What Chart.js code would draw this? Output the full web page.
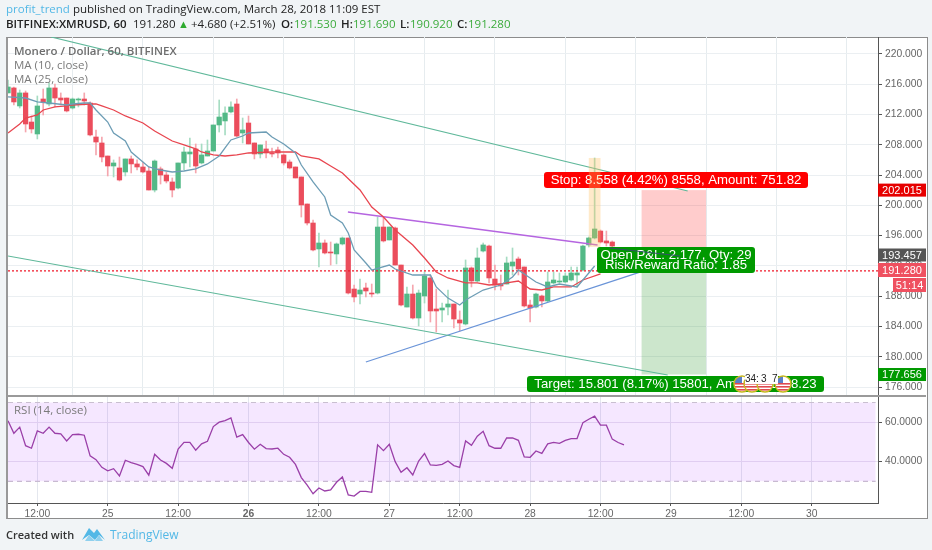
<!DOCTYPE html>
<html><head><meta charset="utf-8">
<style>
html,body{margin:0;padding:0;width:932px;height:550px;overflow:hidden;background:#f1f4f6;font-family:"Open Sans",sans-serif}
.t{position:absolute;white-space:nowrap;font-size:11.5px;line-height:14px;color:#222}
#frame{position:absolute;left:6px;top:37px;width:919px;height:480px;background:#fff;border:1px solid #8c8c8c;border-left:2px solid #999;box-sizing:content-box}
canvas{position:absolute;left:0}
.lg{position:absolute;left:14px;white-space:nowrap;font-size:11.5px;line-height:14px;color:#7a7a7a;z-index:5}
</style></head><body>
<div id="frame"></div>
<canvas id="main" width="932" height="397" style="top:0"></canvas>
<canvas id="rsi" width="932" height="153" style="top:397px"></canvas>
<div style="position:absolute;left:7px;top:395px;width:919px;height:2px;background:#9a9a9a"></div>
<div class="t" style="left:6px;top:2px;font-size:11.5px"><span style="color:#53b8e6">profit_trend</span> published on TradingView.com, March 28, 2018 11:09 EST</div>
<div class="t" style="left:6px;top:17px;font-weight:600">BITFINEX:XMRUSD, 60</div>
<div class="t" style="left:133px;top:17px">191.280</div>
<div class="t" style="left:178px;top:17px;color:#2eaa2e;font-size:11px">▲</div>
<div class="t" style="left:191px;top:17px">+4.680 (+2.51%)</div>
<div class="t" style="left:281px;top:17px;font-weight:600">O:</div><div class="t" style="left:294px;top:17px;color:#3cab3c">191.530</div>
<div class="t" style="left:341px;top:17px;font-weight:600">H:</div><div class="t" style="left:353px;top:17px;color:#3cab3c">191.690</div>
<div class="t" style="left:400px;top:17px;font-weight:600">L:</div><div class="t" style="left:410px;top:17px;color:#3cab3c">190.920</div>
<div class="t" style="left:457px;top:17px;font-weight:600">C:</div><div class="t" style="left:468px;top:17px;color:#3cab3c">191.280</div>
<div class="lg" style="top:44px;font-weight:600;color:#6e6e6e">Monero / Dollar, 60, BITFINEX</div>
<div class="lg" style="top:58px">MA (10, close)</div>
<div class="lg" style="top:72px">MA (25, close)</div>
<div class="lg" style="top:403px">RSI (14, close)</div>
<div class="t" style="left:6px;top:528px;font-size:11px;font-weight:600;color:#333">Created with</div>
<svg style="position:absolute;left:82px;top:527px" width="23" height="15" viewBox="0 0 23 15"><path d="M0 13 L7 1 L12 6 L15 2 L23 13 L17 8 L13 13 L7 8 Z" fill="#53b8e6"/><path d="M3 14 L7 8 L13 14 Z M13 14 L17 8 L21 14 Z" fill="#8fd0ee"/></svg>
<div class="t" style="left:110px;top:528px;font-size:12px;color:#53b8e6">TradingView</div>
<script src="https://cdn.jsdelivr.net/npm/chart.js@4"></script>
<script>
// hourly candles; hour 0 = Mar 25 00:00, first candle is hour -17
const firstHour = -17;
const opens = [214.85,215.51,213.13,214.85,211.01,209.43,214.05,213.39,215.51,214.18,214.18,212.86,213.92,214.05,213.52,209.03,208.24,206.52,205.2,204.94,204.41,206.13,205.47,205.07,204.54,202.03,204.81,204.01,203.09,202.29,205.6,206.79,207.45,205.6,206.52,207.18,210.62,211.15,212.34,213.39,209.56,210.88,208.24,206.79,207.45,206.92,207.32,206.66,205.73,205.07,203.75,200.18,197.67,194.24,195.03,193.84,193.58,194.9,195.69,188.95,188.29,189.09,188.42,188.42,197.14,195.43,197.01,192.12,186.57,188.29,185.12,188.03,190.41,186.31,186.18,186.57,186.97,184.86,184.33,191.73,190.01,193.97,194.63,190.27,189.61,189.61,191.99,192.92,191.86,186.84,186.57,188.03,187.37,189.75,189.88,189.88,190.14,190.8,191.46,194.77,195.69,196.61,195.3,195.16];
const highs = [216.56,215.64,215.24,215.11,211.81,214.45,215.37,216.17,216.03,214.85,214.18,214.18,214.18,214.85,213.66,209.96,209.03,206.52,206.0,206.39,206.13,206.52,206.0,205.73,205.07,206.0,205.07,204.41,203.62,205.6,207.71,208.9,208.11,208.11,208.64,210.62,213.92,213.0,213.66,214.05,211.54,211.81,208.24,207.98,208.5,207.58,207.71,206.79,206.0,205.07,203.75,200.18,198.07,196.35,195.43,195.16,195.03,195.82,195.69,189.48,190.27,189.75,189.61,198.46,198.46,197.14,197.14,192.12,189.22,189.48,188.82,191.2,190.8,188.95,187.1,188.82,186.97,186.05,192.79,191.86,194.37,195.03,194.77,192.12,190.8,193.18,194.37,193.18,191.86,187.5,188.42,188.16,191.2,191.2,191.07,191.07,191.86,191.86,194.77,195.82,206.26,196.75,196.61,195.3];
const lows = [214.85,213.26,212.86,209.69,209.56,208.77,211.94,213.13,213.0,213.26,212.34,212.73,213.0,213.26,209.16,206.66,205.73,203.88,203.75,203.22,203.88,204.28,204.67,204.28,202.03,201.77,202.82,202.96,201.11,202.16,204.67,205.07,204.28,205.47,206.52,207.18,209.69,209.3,212.2,209.03,208.24,208.11,206.13,206.26,206.26,206.39,206.26,205.33,204.81,203.62,198.46,197.41,193.97,191.86,193.58,192.12,192.26,194.77,188.29,187.24,186.97,187.9,187.9,188.29,195.16,195.43,192.12,186.71,186.57,184.99,184.06,187.1,184.59,183.27,184.59,185.52,183.8,183.4,184.2,189.22,189.88,193.84,189.75,188.82,188.82,189.61,190.8,190.8,186.57,184.59,186.44,186.57,187.24,189.61,189.75,189.75,190.01,189.22,191.33,194.5,195.56,195.03,194.63,194.5];
const closes = [215.64,213.66,214.85,210.75,210.09,213.13,213.66,215.51,214.18,213.92,212.47,214.05,214.05,213.79,209.3,208.37,206.39,205.2,205.6,203.35,206.13,205.47,205.07,204.41,202.03,205.86,204.01,203.22,202.03,205.6,207.05,207.05,205.2,206.66,207.18,210.62,211.67,212.2,213.0,209.16,209.96,208.11,206.79,207.98,206.92,206.79,206.92,205.6,204.94,203.62,200.05,197.67,194.11,195.03,193.71,193.71,194.9,195.69,188.42,187.9,188.82,188.69,188.29,197.14,195.3,197.14,192.12,186.84,188.29,185.12,188.42,190.67,186.05,186.05,186.44,186.97,184.99,184.46,191.73,190.01,193.05,194.77,190.41,189.48,189.35,192.39,192.52,191.59,186.71,186.44,188.29,187.37,189.88,190.14,190.01,190.67,191.07,191.07,194.63,195.69,196.88,195.16,195.03,194.63];

const ma25Hours = [-17,-15,-14,-12,-11,-9,-7,-6,-3,-2,-1,1,3,6,8,11,13,15,16,18,20,22,24,28,31,32,33,36,38,40,43,45,47,49,52,54,56,58,61,63,65,67,68,70,71,72,74,76,79,81,84];
const ma25 = [209.56,210.75,211.54,211.94,212.6,213.0,213.13,213.26,213.39,213.39,213.13,212.6,211.81,210.88,209.83,208.5,207.98,207.45,207.05,206.66,206.52,206.66,206.92,207.05,207.05,207.05,206.52,206.13,205.2,204.28,202.03,199.78,198.46,196.75,194.77,193.05,191.2,190.41,189.75,189.75,189.48,189.61,189.75,190.01,189.48,188.95,188.82,189.22,189.22,190.14,190.94];
const ma10Hours = [-17,-14,-12,-10,-7,-6,-4,-3,-2,0,1,3,4,6,7,9,11,13,15,17,19,20,21,23,24,27,28,30,32,33,35,37,38,40,41,42,44,45,48,49,52,55,56,58,60,61,64,67,69,70,71,73,75,77,80,81,83];
const ma10 = [214.32,214.18,213.66,213.52,213.26,213.39,213.52,213.52,212.6,211.01,209.56,208.5,207.05,205.73,205.07,204.67,204.41,204.54,204.81,205.47,206.52,207.58,208.64,209.16,209.56,209.69,209.03,208.11,206.92,205.33,203.09,201.11,198.73,197.67,196.35,194.11,192.39,191.46,192.12,191.59,190.8,190.8,189.22,187.75,186.84,187.5,188.82,189.48,190.54,191.46,190.94,189.88,189.22,189.61,189.22,190.14,191.99];
const rsi14 = [60.7,54.4,57.5,48.1,46.8,55.6,54.4,57.5,54.4,54.1,50.5,53.7,53.9,53.4,42.9,41.0,37.1,35.3,36.4,32.7,40.7,39.5,38.6,37.5,33.1,43.7,40.8,39.1,36.6,46.4,49.8,49.8,45.8,49.0,50.3,57.8,60.0,60.8,62.2,52.4,53.7,49.7,46.3,48.8,46.6,46.4,46.8,43.7,42.2,38.6,31.9,28.1,23.7,26.6,25.1,25.6,29.5,32.2,23.1,22.5,24.9,24.9,24.4,48.5,45.6,48.8,40,34.6,36.9,33.2,40.3,44.1,38.3,38.1,38.6,40.3,38.0,37.1,50.5,48.3,52.9,55.4,48.1,46.8,46.8,52,52,50.8,42.4,42.2,45.4,44.2,49,49.8,49.3,50.8,51.7,51.7,59.8,61.5,63.1,58.5,58.5,51.4,49.7,48.5];

const channelTop = [[-9.66,222.24],[98.86,201.9]];
const channelBottom = [[-17,193.31],[95.45,177.59]];
const purpleLine = [[40.94,199.12],[83.5,194.77]];
const blueLine = [[44,179.31],[90.85,191.2]];
const darkLine = [[85.5,194.37],[97.6,193.31]];
const priceLine = 191.35;
const stopPrice = 202.015, entryPrice = 193.457, targetPrice = 177.656;
const positionHours = [91,102];
const bandHours = [82,84], bandPrices = [206.26,194.5];
const priceTicks = [176,180,184,188,192,196,200,204,208,212,216,220];
const rsiTicks = [40,60];
const rsiBand = [70,30];
const timeTicks = [-12,0,12,24,36,48,60,72,84,96,108,120];
const dayLabels = {0:'25',24:'26',48:'27',72:'28',96:'29',120:'30'};
const xMin = -17, xMax = 131.3;
const yMin = 174.95, yMax = 222.24;
const rsiMin = 19, rsiMax = 72.8;
const rsiBandEnd = 130.9;

const hours = opens.map((_,i)=>i+firstHour);
const rsiHours = rsi14.map((_,i)=>i+firstHour);
const UP='#53b987', DOWN='#eb4d5c', UPW='#a6dcc2', DOWNW='#f5a6ae';
const pts = a => a.map(p=>({x:p[0],y:p[1]}));
const line = (data,color,width,extra)=>Object.assign({type:'line',data,borderColor:color,borderWidth:width,pointRadius:0,fill:false,tension:0,order:1},extra||{});
const noPad = s => { s.paddingTop=0; s.paddingBottom=0; s.paddingLeft=0; s.paddingRight=0; };

function rrect(c,x,y,w,h,r,fill){c.beginPath();c.roundRect(x,y,w,h,r);c.fillStyle=fill;c.fill();}
function label(c,x,y,w,h,fill,lines,font){rrect(c,x,y,w,h,3,fill);c.fillStyle='#fff';c.font=font||'13.2px "Liberation Sans"';c.textAlign='center';c.textBaseline='middle';
  lines.forEach((t,i)=>c.fillText(t,x+w/2,y+h/2+(i-(lines.length-1)/2)*10+0.5));}
function flag(c,x,y){c.save();c.beginPath();c.arc(x,y,8,0,7);c.fillStyle='#fff';c.fill();c.clip();
  c.fillStyle='#fff';c.fillRect(x-8,y-8,16,16);
  c.fillStyle='#e04a50';for(let i=0;i<3;i++)c.fillRect(x-8,y+i*3-1,16,1.6);
  c.fillStyle='#5a7fc8';c.fillRect(x-8,y-8,8,7);c.restore();
  c.beginPath();c.arc(x,y,8,0,7);c.strokeStyle='#c8b820';c.lineWidth=1.4;c.stroke();}
function axisTag(c,y,h,fill,text,x){c.fillStyle=fill;c.fillRect(x||878,y-h/2,926-(x||878),h);c.fillStyle='#fff';c.font='11px "Liberation Sans"';c.textAlign='center';c.textBaseline='middle';c.fillText(text,((x||878)+926)/2,y+0.5);}

const overlays = {id:'overlays',
 beforeDatasetsDraw(ch){const c=ch.ctx,X=ch.scales.x,Y=ch.scales.y;
   const x0=X.getPixelForValue(positionHours[0]),x1=X.getPixelForValue(positionHours[1]);
   const ys=Y.getPixelForValue(stopPrice),ye=Y.getPixelForValue(entryPrice),yt=Y.getPixelForValue(targetPrice);
   c.fillStyle='rgba(255,0,0,0.2)';c.fillRect(x0,ys,x1-x0,ye-ys);
   c.fillStyle='rgba(0,128,0,0.2)';c.fillRect(x0,ye,x1-x0,yt-ye);},
 afterDatasetsDraw(ch){const c=ch.ctx,X=ch.scales.x,Y=ch.scales.y;
   label(c,544,172,264,16,'#f00',['Stop: 8.558 (4.42%) 8558, Amount: 751.82']);
   label(c,597,247,158,26,'#090',['Open P&L: 2.177, Qty: 29','Risk/Reward Ratio: 1.85']);
   label(c,527,376,297,16,'#090',['Target: 15.801 (8.17%) 15801, Amount: 1388.23']);
   c.beginPath();c.moveTo(X.getPixelForValue(darkLine[0][0]),Y.getPixelForValue(darkLine[0][1]));
   c.lineTo(X.getPixelForValue(darkLine[1][0]),Y.getPixelForValue(darkLine[1][1]));c.strokeStyle='#35506a';c.lineWidth=1;c.stroke();
   const bx=X.getPixelForValue(bandHours[0]),bw=X.getPixelForValue(bandHours[1])-bx;
   const by=Y.getPixelForValue(bandPrices[0]),bh=Y.getPixelForValue(bandPrices[1])-by;
   c.fillStyle='rgba(255,190,90,0.32)';c.fillRect(bx,by,bw,bh);
   [742,752,765,783].forEach(x=>flag(c,x,384));
   c.fillStyle='#fff';c.fillRect(745,375,33,9);
   c.fillStyle='#222';c.font='10px "Liberation Sans"';c.textAlign='left';c.textBaseline='middle';
   c.fillText('34:',745,379);c.fillText('3',761,379);c.fillText('7',772,379);
 },
 afterDraw(ch){const c=ch.ctx,Y=ch.scales.y;
   axisTag(c,Y.getPixelForValue(stopPrice),13,'#e60000','202.015');
   axisTag(c,255,13,'#555','193.457');
   axisTag(c,270,14,'#ef5060','191.280');
   axisTag(c,285,14,'#ef5060','51:14',893);
   axisTag(c,Y.getPixelForValue(targetPrice),13,'#090','177.656');
 }};

new Chart(document.getElementById('main'),{
 data:{datasets:[
  line(pts(channelTop),'#5fb89a',1.2),
  line(pts(channelBottom),'#5fb89a',1.2),
  line(pts(purpleLine),'#b565e0',1.4),
  line(pts(blueLine),'#6a94d8',1.3),
  line(pts([[xMin,priceLine],[xMax,priceLine]]),'#f01828',1.2,{borderDash:[2,2]}),
  line(ma10Hours.map((h,i)=>({x:h,y:ma10[i]})),'#6d9db5',1.3,{order:0}),
  line(ma25Hours.map((h,i)=>({x:h,y:ma25[i]})),'#e8454f',1.3,{order:0}),
  {type:'bar',data:hours.map((h,i)=>({x:h,y:[opens[i],closes[i]]})),backgroundColor:hours.map((h,i)=>closes[i]>=opens[i]?UP:DOWN),barThickness:4.6,order:2,grouped:false},
  {type:'bar',data:hours.map((h,i)=>({x:h,y:[lows[i],highs[i]]})),backgroundColor:hours.map((h,i)=>closes[i]>=opens[i]?UPW:DOWNW),barThickness:1,order:3,grouped:false}
 ]},
 options:{responsive:false,animation:false,devicePixelRatio:1,
  layout:{padding:{left:8,right:6,top:37,bottom:2}},
  plugins:{legend:{display:false},tooltip:{enabled:false}},
  scales:{
   x:{type:'linear',min:xMin,max:xMax,offset:false,afterBuildTicks:s=>{s.ticks=timeTicks.map(value=>({value}))},afterFit:s=>{s.height=0;noPad(s)},
      ticks:{display:false},grid:{color:'#e6ecef',drawTicks:false},border:{display:false}},
   y:{position:'right',min:yMin,max:yMax,afterBuildTicks:s=>{s.ticks=priceTicks.map(value=>({value}))},afterFit:s=>{s.width=48;noPad(s)},
      ticks:{color:'#666',font:{family:'"Liberation Sans"',size:10.3},padding:3,callback:v=>v.toFixed(3)},
      grid:{color:'#ebeff2',tickColor:'#555',tickLength:4},border:{color:'#555'}}
  }},
 plugins:[overlays]
});

new Chart(document.getElementById('rsi'),{
 data:{datasets:[
  line([{x:xMin,y:rsiBand[0]},{x:rsiBandEnd,y:rsiBand[0]}],'#c9bfd0',1.2,{borderDash:[5,4],fill:'+1',backgroundColor:'rgba(153,21,255,0.1)',order:3}),
  line([{x:xMin,y:rsiBand[1]},{x:rsiBandEnd,y:rsiBand[1]}],'#c9bfd0',1.2,{borderDash:[5,4],order:3}),
  line(rsiHours.map((h,i)=>({x:h,y:rsi14[i]})),'#9a3fa8',1.3,{order:0})
 ]},
 options:{responsive:false,animation:false,devicePixelRatio:1,
  layout:{padding:{left:8,right:6,top:0,bottom:32}},
  plugins:{legend:{display:false},tooltip:{enabled:false},filler:{propagate:false}},
  scales:{
   x:{type:'linear',min:xMin,max:xMax,offset:false,afterBuildTicks:s=>{s.ticks=timeTicks.map(value=>({value}))},afterFit:s=>{s.height=15;noPad(s)},
      ticks:{color:'#666',autoSkip:false,maxRotation:0,padding:2,font:c=>({family:'"Liberation Sans"',size:10.3,weight:c.tick&&c.tick.value===24?'bold':'normal'}),
        callback:v=>(v in dayLabels)?dayLabels[v]:'12:00'},
      grid:{color:'#e4e7ee',tickColor:'#555',tickLength:3},border:{color:'#555'}},
   y:{position:'right',min:rsiMin,max:rsiMax,afterBuildTicks:s=>{s.ticks=rsiTicks.map(value=>({value}))},afterFit:s=>{s.width=48;noPad(s)},
      ticks:{color:'#666',font:{family:'"Liberation Sans"',size:10.3},padding:3,callback:v=>v.toFixed(4)},
      grid:{color:'#e8e2f0',tickColor:'#555',tickLength:4},border:{color:'#555'}}
  }}
});
</script>
</body></html>
